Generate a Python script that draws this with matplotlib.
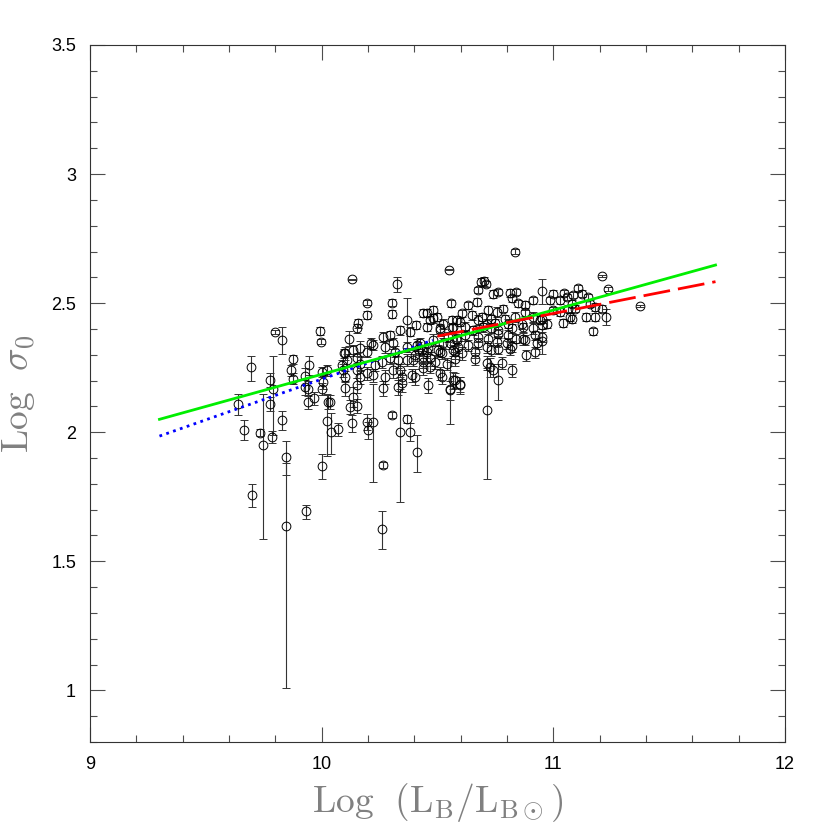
import numpy as np
import matplotlib
matplotlib.use("Agg")
import matplotlib.pyplot as plt

plt.rcParams['mathtext.fontset'] = 'cm'
plt.rcParams['font.family'] = ['Liberation Sans', 'DejaVu Sans']

# galaxy sample: log luminosity, log central velocity dispersion, sigma error (km/s)
log_lum = [
    9.799, 9.830, 9.695, 9.641, 9.666, 9.701, 9.733, 9.748, 9.777, 9.792, 9.777, 9.784, 9.828, 9.846, 9.846,
    9.875, 9.868, 9.878, 9.928, 9.947, 9.943, 9.928, 9.969, 9.943, 9.933, 9.992, 9.999, 10.000, 10.022, 10.007,
    10.000, 10.026, 10.035, 10.025, 10.039, 10.003, 10.072, 10.087, 10.097, 10.101,
    10.129, 10.324, 10.197, 10.194, 10.305, 10.305, 10.367, 10.158, 10.151, 10.119, 10.211, 10.266, 10.295, 10.338,
    10.381, 10.407, 10.436, 10.453, 10.479, 10.467, 10.496, 10.511,
    10.101, 10.137, 10.165, 10.194, 10.223, 10.273, 10.309, 10.316, 10.367, 10.410, 10.431, 10.460, 10.503,
    10.108, 10.151, 10.165, 10.230, 10.259, 10.295, 10.331, 10.367, 10.403, 10.439, 10.467, 10.511,
    10.093, 10.151, 10.165, 10.194, 10.223, 10.273, 10.309, 10.338, 10.345, 10.388, 10.403, 10.439, 10.467, 10.511,
    10.101, 10.151, 10.137, 10.122, 10.151, 10.266, 10.331, 10.345, 10.460,
    10.129, 10.194, 10.223, 10.201, 10.302, 10.367, 10.338, 10.381, 10.410,
    10.259, 10.266, 10.712,
    10.482, 10.525, 10.583, 10.453, 10.511, 10.568, 10.424, 10.482, 10.525, 10.583, 10.417,
    10.453, 10.518, 10.575, 10.396, 10.439, 10.489, 10.539, 10.518, 10.568, 10.597, 10.554,
    10.834, 10.549, 10.702, 10.687, 10.708, 10.676, 10.669, 10.558, 10.633, 10.741, 10.762, 10.813, 10.841, 10.820,
    10.846, 10.877, 10.913, 10.952,
    10.719, 10.755, 10.784, 10.604, 10.647, 10.690, 10.733, 10.791, 10.834, 10.877, 10.913,
    10.561, 10.597, 10.676, 10.712, 10.748, 10.805, 10.863, 10.942,
    10.561, 10.618, 10.654, 10.697, 10.733, 10.762, 10.820, 10.870, 10.913, 10.949,
    10.546, 10.582, 10.618, 10.676, 10.719, 10.762, 10.805, 10.841, 10.877, 10.920, 10.949,
    10.554, 10.590, 10.633, 10.676, 10.712, 10.755, 10.798, 10.820, 10.870, 10.928,
    10.568, 10.604, 10.661, 10.733, 10.762, 10.813, 10.884, 10.920,
    10.575, 10.661, 10.712, 10.777, 10.820, 10.726, 10.741, 10.597, 10.554, 10.575, 10.762,
    11.212, 11.234, 11.107, 11.122, 11.086, 11.046, 10.999, 10.985, 11.028, 11.057, 11.079, 11.151, 11.158, 10.999,
    11.028, 11.064, 11.093, 11.179, 11.208, 10.949, 10.971, 11.043, 11.071, 11.079, 11.143, 11.179, 11.227, 11.172,
    10.949, 11.374,
]
log_sig = [
    2.389, 2.357, 2.251, 2.111, 2.010, 1.758, 1.998, 1.952, 2.202, 2.169, 2.109, 1.982, 2.047, 1.904, 1.636,
    2.282, 2.240, 2.208, 2.217, 2.260, 2.169, 2.176, 2.131, 2.118, 1.693, 2.392, 2.350, 2.234, 2.240, 2.195,
    2.169, 2.118, 2.118, 2.044, 2.001, 1.870, 2.012, 2.260, 2.305, 2.215,
    2.592, 2.574, 2.502, 2.454, 2.502, 2.458, 2.434, 2.422, 2.402, 2.363, 2.344, 2.370, 2.376, 2.396,
    2.389, 2.415, 2.463, 2.463, 2.473, 2.434, 2.447, 2.402,
    2.305, 2.318, 2.325, 2.312, 2.338, 2.331, 2.344, 2.312, 2.331, 2.338, 2.318, 2.325, 2.318,
    2.279, 2.286, 2.266, 2.260, 2.273, 2.286, 2.279, 2.279, 2.299, 2.292, 2.286, 2.312,
    2.241, 2.241, 2.215, 2.228, 2.221, 2.215, 2.241, 2.241, 2.215, 2.221, 2.215, 2.247, 2.254, 2.228,
    2.170, 2.183, 2.137, 2.099, 2.102, 2.170, 2.176, 2.189, 2.183,
    2.036, 2.040, 2.038, 2.008, 2.066, 2.053, 2.002, 2.002, 1.924,
    1.627, 1.872, 2.085,
    2.441, 2.421, 2.434, 2.408, 2.395, 2.408, 2.344, 2.357, 2.344, 2.357, 2.324,
    2.311, 2.305, 2.311, 2.279, 2.273, 2.273, 2.266, 2.215, 2.202, 2.186, 2.163,
    2.699, 2.630, 2.585, 2.583, 2.576, 2.550, 2.505, 2.499, 2.492, 2.537, 2.544, 2.540, 2.544, 2.518,
    2.499, 2.492, 2.511, 2.548,
    2.473, 2.466, 2.479, 2.460, 2.453, 2.447, 2.440, 2.440, 2.447, 2.466, 2.447,
    2.434, 2.427, 2.434, 2.421, 2.424, 2.421, 2.421, 2.434,
    2.402, 2.408, 2.395, 2.406, 2.402, 2.395, 2.402, 2.406, 2.402, 2.415,
    2.369, 2.363, 2.376, 2.369, 2.363, 2.382, 2.376, 2.363, 2.356, 2.376, 2.369,
    2.344, 2.331, 2.337, 2.344, 2.331, 2.350, 2.344, 2.333, 2.363, 2.344,
    2.318, 2.305, 2.311, 2.318, 2.324, 2.324, 2.298, 2.311,
    2.285, 2.285, 2.269, 2.269, 2.240, 2.253, 2.240, 2.182, 2.169, 2.201, 2.201,
    2.604, 2.556, 2.560, 2.537, 2.531, 2.540, 2.537, 2.511, 2.511, 2.524, 2.498, 2.524, 2.498, 2.472,
    2.466, 2.479, 2.479, 2.485, 2.479, 2.440, 2.421, 2.423, 2.447, 2.440, 2.447, 2.447, 2.447, 2.391,
    2.354, 2.488,
]
sig_err = [
    4, 27, 20, 12, 9, 6, 3, 51, 10, 50, 8, 5, 9, 12, 33,
    8, 8, 8, 12, 15, 10, 10, 8, 8, 3, 9, 5, 8, 8, 10,
    8, 8, 8, 30, 18, 8, 6, 8, 8, 8,
    3, 25, 8, 10, 10, 10, 60, 10, 10, 15, 10, 10, 10, 10,
    10, 10, 10, 10, 10, 10, 10, 10,
    12, 10, 15, 10, 10, 12, 10, 10, 10, 12, 10, 10, 10,
    10, 10, 12, 10, 10, 10, 12, 10, 10, 10, 12, 10,
    10, 12, 10, 10, 10, 10, 12, 10, 10, 10, 12, 10, 10, 10,
    10, 10, 12, 8, 8, 10, 10, 12, 10,
    8, 8, 45, 8, 3, 4, 47, 8, 14,
    7, 2, 56,
    10, 12, 10, 10, 12, 10, 10, 12, 10, 10, 12,
    10, 10, 12, 10, 10, 12, 10, 10, 12, 10, 12,
    12, 3, 15, 12, 10, 10, 12, 10, 10, 12, 10, 12, 10, 10,
    10, 12, 10, 40,
    10, 12, 10, 10, 12, 10, 10, 10, 12, 10, 12,
    10, 10, 12, 10, 10, 10, 12, 10,
    10, 12, 10, 10, 10, 12, 10, 10, 12, 10,
    10, 10, 12, 10, 10, 10, 12, 10, 10, 10, 10,
    10, 12, 10, 10, 12, 10, 10, 10, 12, 10,
    10, 12, 10, 10, 10, 12, 10, 10,
    12, 10, 12, 10, 10, 15, 10, 12, 40, 10, 25,
    4, 6, 10, 10, 10, 10, 10, 10, 10, 10, 10, 10, 10, 10,
    10, 10, 10, 10, 10, 10, 10, 10, 10, 10, 10, 10, 20, 8,
    25, 3,
]

# fitted relations: (slope, intercept, x range)
green_fit = (0.249, -0.2657, 9.3, 11.7)
blue_fit = (0.315, -0.9445, 9.3, 10.48)
red_fit = (0.176, 0.524, 10.5, 11.7)

x = np.array(log_lum)
y = np.array(log_sig)
e = np.array(sig_err, dtype=float)
s = 10 ** y
err_lo = y - np.log10(np.maximum(s - e, 10.0))
err_hi = np.log10(s + e) - y

fig = plt.figure(figsize=(8.3, 8.3), dpi=100)
ax = fig.add_axes([0.1084, 0.106, 0.8374, 0.8398])

ax.errorbar(x, y, yerr=[err_lo, err_hi], fmt='o', mfc='none', mec='black', mew=0.7,
            ms=6.3, ecolor='0.2', elinewidth=0.8, capsize=3, capthick=0.8, zorder=2)


def fit_line(fit, n=50):
    b, a, x0, x1 = fit
    xx = np.linspace(x0, x1, n)
    return xx, a + b * xx


xx, yy = fit_line(blue_fit)
ax.plot(xx, yy, color='blue', lw=2, linestyle=(0, (1, 1.6)), zorder=3)
xx, yy = fit_line(green_fit)
ax.plot(xx, yy, color='#00ee00', lw=2, zorder=4)
xx, yy = fit_line(red_fit)
ax.plot(xx, yy, color='red', lw=2, linestyle=(0, (9.7, 2.9)), zorder=5)

ax.set_xlim(9, 12)
ax.set_ylim(0.8, 3.5)
ax.set_xticks([9, 10, 11, 12])
ax.set_xticks(np.arange(9, 12.01, 0.2), minor=True)
ax.set_yticks([1, 1.5, 2, 2.5, 3, 3.5])
ax.set_yticklabels(['1', '1.5', '2', '2.5', '3', '3.5'])
ax.set_yticks(np.arange(0.8, 3.501, 0.1), minor=True)
ax.tick_params(which='both', direction='in', top=True, right=True, labelsize=13, width=0.8, colors='0.3',
               labelcolor='black')
ax.tick_params(which='major', length=11, pad=10)
ax.tick_params(which='minor', length=5)
for sp in ax.spines.values():
    sp.set_linewidth(0.8)
    sp.set_color('0.2')

ax.set_xlabel(r'$\mathrm{Log}\ \ (\mathrm{L_B/L_{B\odot}})$', fontsize=27, color='0.5', labelpad=6)
ax.set_ylabel(r'$\mathrm{Log}\ \ \sigma_0$', fontsize=27, color='0.5', labelpad=10)

fig.savefig('out.png', dpi=100)
